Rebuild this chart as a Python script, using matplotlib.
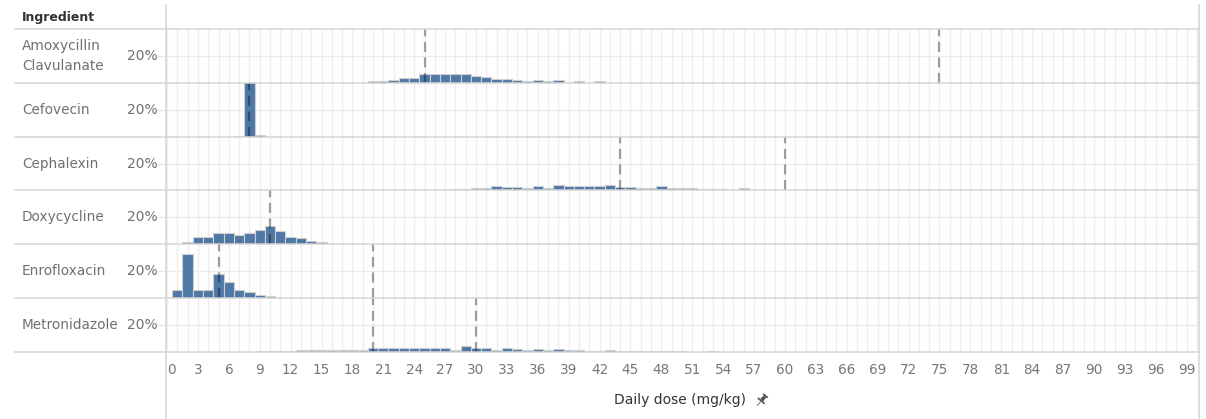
import numpy as np
import matplotlib
matplotlib.use("Agg")
import matplotlib.pyplot as plt
from matplotlib.lines import Line2D
from matplotlib.patches import Polygon

# ingredients, top to bottom
ingredients = ["Amoxycillin\nClavulanate", "Cefovecin", "Cephalexin",
               "Doxycycline", "Enrofloxacin", "Metronidazole"]

# histogram of daily dose (1 mg/kg bins), percent of prescriptions
amox_start = 17
amox_pct = [0.2, 0.2, 0.2, 1.2, 1.2, 2.2, 3.5, 3.5, 6.5, 6.5, 6.5, 6.5, 6.5,
            5.3, 4.3, 3.3, 3.3, 2.0, 1.2, 2.2, 1.2, 2.2, 0.2, 1.2, 0.2, 1.2,
            0.2, 0.2, 0.2, 0.2, 0.2, 0.2, 0.2, 0.2, 0.2, 0, 0.2, 0, 0, 0.2,
            0, 0, 0, 0, 0, 0, 0.2]
cefo_start = 7
cefo_pct = [0.2, 90.0, 1.0]
ceph_start = 24
ceph_pct = [0.2, 0.2, 0.2, 0.2, 1.2, 1.2, 2.2, 2.2, 3.0, 2.8, 2.8, 2.0, 3.2,
            2.0, 4.2, 3.2, 3.2, 3.2, 3.2, 4.2, 2.8, 2.8, 2.0, 2.0, 3.2, 2.0,
            2.0, 2.0, 1.2, 1.2, 1.2, 0.2, 1.5, 0.2, 0.2, 0.2, 0.2, 0.2, 0.2,
            0.2, 0, 0.2, 0, 0.2]
doxy_start = 2
doxy_pct = [2.0, 5.5, 5.5, 8.0, 8.0, 7.0, 8.0, 10.7, 13.7, 10.0, 5.5, 4.5,
            2.7, 1.7, 0.2, 0.2, 0.2, 0.2, 0.2, 0.2, 0.2]
enro_start = 1
enro_pct = [5.7, 33.0, 5.7, 5.7, 17.5, 11.7, 5.7, 4.2, 2.5, 1.7,
            0.2, 0.2, 0.2, 0.2]
metro_start = 9
metro_pct = [0.2, 0.2, 0.2, 0.2, 1.2, 1.2, 1.2, 1.2, 1.2, 1.5, 1.5, 3.0, 2.5,
             2.5, 2.5, 2.5, 2.5, 2.5, 2.5, 1.2, 4.2, 2.7, 2.5, 1.2, 2.5, 2.0,
             1.2, 2.2, 1.2, 2.2, 1.2, 1.2, 0.2, 0.2, 1.5, 0.2, 0.2, 0.2, 0.2,
             0.2, 0.2, 0.2, 0, 0, 0.2]

starts = [amox_start, cefo_start, ceph_start, doxy_start, enro_start, metro_start]
pcts = [amox_pct, cefo_pct, ceph_pct, doxy_pct, enro_pct, metro_pct]

# recommended dose range (reference lines)
ref_doses = [[25, 75], [8], [44, 60], [10], [5, 20], [20, 30]]

x_ticks = list(range(0, 100, 3))

BLUE = "#4e79a7"
ROWLINE = "#d4d4d4"
GRID = "#eeeeee"
LABEL = "#707070"

W, H = 1206, 419
fig = plt.figure(figsize=(W / 100, H / 100), dpi=100)
fig.patch.set_facecolor("white")

left_px, right_px = 166, 1199
top_px, row_h = 29.3, 53.73

def fy(py):
    return 1 - py / H

for i, name in enumerate(ingredients):
    y0 = top_px + i * row_h
    ax = fig.add_axes([left_px / W, fy(y0 + row_h), (right_px - left_px) / W, row_h / H])
    ax.set_xlim(-0.1, 100.2)
    ax.set_ylim(0, 40)
    for s in ax.spines.values():
        s.set_visible(False)
    ax.set_xticks(x_ticks)
    ax.set_xticks(np.arange(1, 101), minor=True)
    ax.set_yticks([20])
    ax.set_yticklabels([])
    ax.tick_params(axis="both", which="both", length=0)
    ax.grid(True, which="both", axis="x", color=GRID, lw=1, zorder=0)
    ax.grid(True, which="major", axis="y", color="#ebebeb", lw=1, zorder=0)
    ax.set_axisbelow(True)

    bins = np.arange(starts[i], starts[i] + len(pcts[i]))
    vals = np.array(pcts[i])
    keep = vals > 0
    ax.bar(bins[keep], vals[keep], width=1, color=BLUE, edgecolor="#cfcfcf",
           linewidth=0.8, zorder=2)
    for d in ref_doses[i]:
        ax.axvline(d, color="black", alpha=0.36, lw=1.6, ls=(0, (4.5, 2.5)), zorder=3)

    if i == len(ingredients) - 1:
        ax.set_xticklabels([str(t) for t in x_ticks], color="#777777", fontsize=9.8)
        ax.tick_params(axis="x", which="major", pad=8)
        ax.get_xticklabels()[0].set_horizontalalignment("left")
    else:
        ax.set_xticklabels([])

    yc = y0 + row_h / 2
    fig.text(22 / W, fy(yc), name, color=LABEL, fontsize=9.8, ha="left",
             va="center", linespacing=1.6)
    fig.text(158 / W, fy(y0 + row_h - 26.8), "20%", color=LABEL, fontsize=10,
             ha="right", va="center")
    # tiny tick for the 20% mark
    fig.add_artist(Line2D([158 / W, 166 / W], [fy(y0 + row_h - 26.8)] * 2,
                          color="#e6e6e6", lw=1))

# row separators
for i in range(len(ingredients) + 1):
    yy = fy(top_px + i * row_h)
    fig.add_artist(Line2D([15 / W, right_px / W], [yy, yy], color=ROWLINE, lw=1.1))

# outer vertical borders of the pane
for xx in (left_px, right_px):
    fig.add_artist(Line2D([xx / W, xx / W], [fy(5), fy(419)], color=ROWLINE, lw=1.1))

fig.text(22 / W, fy(18), "Ingredient", color="#333333", fontsize=9,
         fontweight="bold", ha="left", va="center")
fig.text(680 / W, fy(400), "Daily dose (mg/kg)", color="#333333", fontsize=10,
         ha="center", va="center")

# pin icon next to the axis title (drawn upright, then tilted 45 degrees)
pin_parts = [
    [(-0.4, -7.5), (0.4, -7.5), (0.4, -2), (-0.4, -2)],      # needle
    [(-4.5, -2), (4.5, -2), (4.5, -0.3), (-4.5, -0.3)],      # plate
    [(-2, -0.3), (2, -0.3), (1.6, 4.5), (-1.6, 4.5)],        # body
    [(-3, 4.5), (3, 4.5), (3, 6.3), (-3, 6.3)],              # cap
]
ang = np.deg2rad(-40)
rot = np.array([[np.cos(ang), -np.sin(ang)], [np.sin(ang), np.cos(ang)]])
cx, cy = 762, 400
for part in pin_parts:
    pts = np.array(part) @ rot.T
    xy = [((cx + p[0]) / W, fy(cy - p[1])) for p in pts]
    fig.add_artist(Polygon(xy, closed=True, transform=fig.transFigure,
                           facecolor="#555555", edgecolor="none"))

fig.savefig("out.png", dpi=100, facecolor="white")
